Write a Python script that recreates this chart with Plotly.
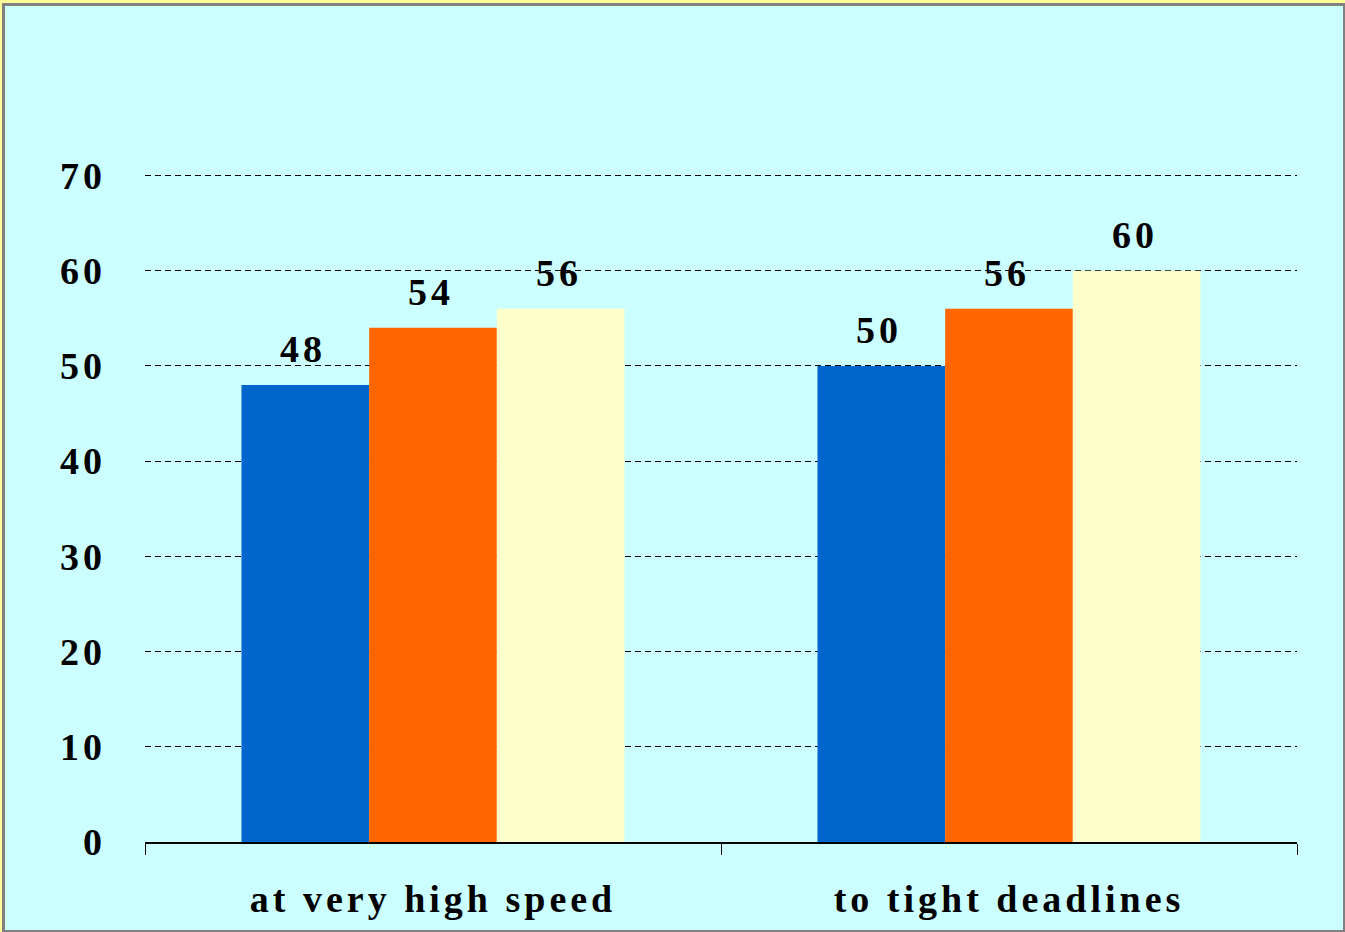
import plotly.graph_objects as go

# Chart data
categories = ["at very high speed", "to tight deadlines"]
series_names = ["Group A", "Group B", "Group C"]
series_values = {
    "Group A": [48, 50],
    "Group B": [54, 56],
    "Group C": [56, 60],
}
y_ticks = [0, 10, 20, 30, 40, 50, 60, 70]

# Styling
colors = {"Group A": "#0066CC", "Group B": "#FF6600", "Group C": "#FFFFCC"}
W, H = 1345, 932
ML, MR, MT, MB = 145, 48, 166, 90
FONT = "Liberation Serif"
FS = 38
SPACING = "4px"


def spaced(s, sp=SPACING):
    return f'<span style="letter-spacing:{sp}">{s}</span>'


fig = go.Figure()
for name in series_names:
    fig.add_trace(go.Bar(
        x=categories,
        y=series_values[name],
        name=name,
        marker=dict(color=colors[name], line=dict(width=0)),
        showlegend=False,
        hoverinfo="x+y",
    ))

# value labels above each bar
bar_px = (W - ML - MR) / len(categories) * (1 - 0.335) / len(series_names)
for i, name in enumerate(series_names):
    offset = (i - (len(series_names) - 1) / 2) * bar_px
    for cat, v in zip(categories, series_values[name]):
        fig.add_annotation(
            x=cat, y=v, xref="x", yref="y",
            text=spaced(str(v)), showarrow=False,
            xanchor="center", yanchor="bottom",
            xshift=offset - 2, yshift=13,
            font=dict(family=FONT, size=FS, color="#000000", weight="bold"),
        )

# frame: gray inset border on a yellow rim
pw, ph = W - ML - MR, H - MT - MB


def px_x(px):
    return (px - ML) / pw


def px_y(py):
    return (H - MB - py) / ph


fig.add_shape(type="rect", xref="paper", yref="paper",
              x0=px_x(2), x1=px_x(W), y0=px_y(H), y1=px_y(3),
              fillcolor="#808080", line=dict(width=0), layer="below")
fig.add_shape(type="rect", xref="paper", yref="paper",
              x0=px_x(5), x1=px_x(W - 2), y0=px_y(H - 2), y1=px_y(6),
              fillcolor="#CCFFFF", line=dict(width=0), layer="below")

fig.update_layout(
    width=W, height=H,
    margin=dict(l=ML, r=MR, t=MT, b=MB, pad=0),
    paper_bgcolor="#FFFF99",
    plot_bgcolor="rgba(0,0,0,0)",
    font=dict(family=FONT, size=FS, color="#000000", weight="bold"),
    barmode="group",
    bargap=0.335,
    bargroupgap=0,
    xaxis=dict(
        showline=True, linecolor="#000000", linewidth=1.5,
        ticks="outside", tickson="boundaries", ticklen=11, tickcolor="#000000",
        tickwidth=1,
        tickvals=categories,
        ticktext=[spaced(c, "4px") for c in categories],
        tickfont=dict(family=FONT, size=FS, weight="bold"),
        ticklabelstandoff=23,
        showgrid=False, zeroline=False,
    ),
    yaxis=dict(
        range=[0, 71],
        tickvals=y_ticks,
        ticktext=[spaced(str(t)) for t in y_ticks],
        tickfont=dict(family=FONT, size=FS, weight="bold"),
        showgrid=True, gridcolor="#000000", gridwidth=1, griddash="6px,4px",
        showline=False, zeroline=False, ticks="",
        ticklabelstandoff=38,
    ),
)

fig.write_html("out.html")
